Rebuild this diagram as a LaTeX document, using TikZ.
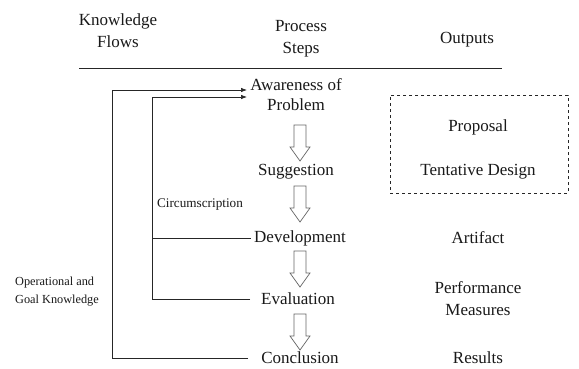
\documentclass[tikz,border=0pt]{standalone}
\usepackage{fontspec}
\setmainfont{Liberation Serif}
\usetikzlibrary{arrows.meta}
\begin{document}
\begin{tikzpicture}[x=1pt,y=-1pt,
  big/.style={font=\rmfamily\fontsize{17}{22}\selectfont, align=center, inner sep=0pt, text=black!90},
  small/.style={font=\rmfamily\fontsize{12.3}{18}\selectfont, align=center, inner sep=0pt, text=black!90},
  flow/.style={draw=black!85, line width=0.7pt},
  tip/.style={-{Latex[length=6pt,width=4.5pt]}},
  hollowshape/.style={draw=black!60, fill=white, line width=0.7pt},
  harrow/.pic={\draw[hollowshape] (-6,0) -- (6,0) -- (6,22) -- (10,22) -- (0,36) -- (-10,22) -- (-6,22) -- cycle;}]
\useasboundingbox[fill=white] (0,0) rectangle (579,369);

% headers
\node[big] (hk) at (118,31) {Knowledge\\Flows};
\node[big] (hp) at (301,39) {Process\\Steps};
\node[big] (ho) at (467,40) {Outputs};
\coordinate (ruleL) at (79,68);
\coordinate (ruleR) at (502,68);
\draw[black!85, line width=0.8pt] (ruleL) -- (ruleR);

% process steps
\node[big, font=\rmfamily\fontsize{17}{20}\selectfont] (aw) at (296,95) {Awareness of\\Problem};
\node[big] (sg) at (296,172) {Suggestion};
\node[big] (dv) at (300,238) {Development};
\node[big] (ev) at (298,299) {Evaluation};
\node[big] (cl) at (300,358) {Conclusion};

% hollow arrows
\pic at (300,125) {harrow};
\pic at (300,186) {harrow};
\pic at (300,251) {harrow};
\pic at (300,314) {harrow};

% outputs
\node[draw=black!85, dashed, line width=0.6pt, minimum width=178pt, minimum height=98pt, inner sep=0pt] (box) at (479,144) {};
\node[big] (pr) at (478,127) {Proposal};
\node[big] (td) at (478,172) {Tentative Design};
\node[big] (ar) at (478,238) {Artifact};
\node[big] (pm) at (478,299) {Performance\\Measures};
\node[big] (rs) at (478,358) {Results};

% knowledge flows
\node[small, font=\rmfamily\fontsize{13.2}{18}\selectfont] (circ) at (200,205) {Circumscription};
\node[small, align=left] (og) at (57,292) {Operational and\\Goal Knowledge};

\coordinate (oTop) at (112,90);
\coordinate (oTip) at (247,90);
\coordinate (iTop) at (152,97);
\coordinate (iTip) at (247,97);
\coordinate (iDev) at (152,238);
\coordinate (clEnd) at (248,358);
\coordinate (evEnd) at (250,299);
\coordinate (dvEnd) at (251,238);

\draw[flow, tip] (clEnd) -| (oTop) -- (oTip);
\draw[flow, tip] (evEnd) -| (iTop) -- (iTip);
\draw[flow] (iDev) -- (dvEnd);
\end{tikzpicture}
\end{document}
